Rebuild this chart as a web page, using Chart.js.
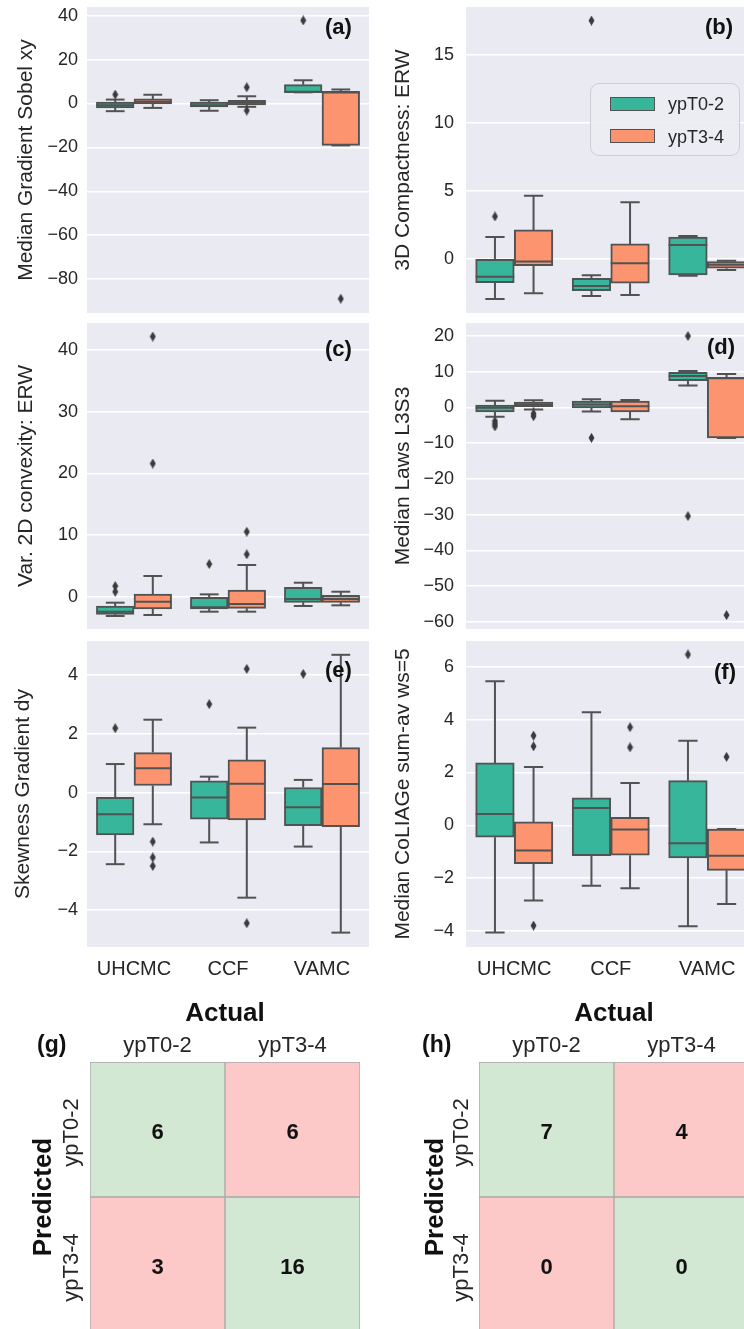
<!DOCTYPE html>
<html><head><meta charset="utf-8">
<script src="https://cdn.jsdelivr.net/npm/chart.js"></script>
<style>
html,body{margin:0;padding:0;background:#fff;}
body{width:744px;height:1329px;overflow:hidden;position:relative;font-family:"Liberation Sans",Arial,sans-serif;}
canvas{position:absolute;}
.lbl{position:absolute;font-weight:bold;font-size:22px;color:#111;line-height:26px;white-space:nowrap;}
#legend{position:absolute;left:590px;top:83px;width:150px;height:73px;border:1px solid #cdcdd4;border-radius:9px;background:rgba(236,236,243,0.9);box-sizing:border-box;}
.sw{position:absolute;left:19px;width:45px;height:14px;border:1.5px solid #525252;box-sizing:border-box;}
.lt{position:absolute;left:77px;font-size:18px;color:#262626;line-height:20px;white-space:nowrap;}
</style></head><body>
<canvas id="pa" width="372" height="320" style="left:0;top:0"></canvas>
<canvas id="pb" width="400" height="320" style="left:372px;top:0"></canvas>
<canvas id="pc" width="372" height="320" style="left:0;top:316px"></canvas>
<canvas id="pd" width="400" height="320" style="left:372px;top:316px"></canvas>
<canvas id="pe" width="372" height="360" style="left:0;top:634px"></canvas>
<canvas id="pf" width="400" height="360" style="left:372px;top:634px"></canvas>
<canvas id="pg" width="372" height="345" style="left:0;top:990px"></canvas>
<canvas id="ph" width="400" height="345" style="left:372px;top:990px"></canvas>

<div class="lbl" style="left:325px;top:14px">(a)</div>
<div class="lbl" style="left:705px;top:14px">(b)</div>
<div class="lbl" style="left:325px;top:336px">(c)</div>
<div class="lbl" style="left:707px;top:334px">(d)</div>
<div class="lbl" style="left:325px;top:657px">(e)</div>
<div class="lbl" style="left:714px;top:659px">(f)</div>
<div class="lbl" style="left:37px;top:1031px;font-size:23px">(g)</div>
<div class="lbl" style="left:422px;top:1031px;font-size:23px">(h)</div>

<div id="legend">
  <div class="sw" style="top:13px;background:#37b69b"></div><div class="lt" style="top:10px">ypT0-2</div>
  <div class="sw" style="top:45px;background:#fd9470"></div><div class="lt" style="top:43px">ypT3-4</div>
</div>

<script>
// ---------------- data ----------------
const categories = ['UHCMC', 'CCF', 'VAMC'];
const groups = ['ypT0-2', 'ypT3-4'];
// each entry: [lower whisker, Q1, median, Q3, upper whisker] per category
const sobelT02 = [[-3.5, -2.0, -0.8, 0.6, 1.8], [-3.3, -1.5, -0.8, 0.6, 1.5], [5.1, 5.1, 5.3, 8.6, 10.6]];
const sobelT34 = [[-2.0, -0.2, 0.8, 2.1, 4.0], [-1.5, -0.6, 0.3, 1.5, 3.3], [-19.1, -19.1, 5.0, 5.6, 6.4]];
const sobelT02Out = [[4.1], [], [37.9]];
const sobelT34Out = [[], [7.4, -3.2], [-89]];

const compactT02 = [[-2.97, -1.77, -1.33, -0.05, 1.58], [-2.75, -2.36, -2.01, -1.45, -1.23], [-1.27, -1.2, 1.0, 1.58, 1.67]];
const compactT34 = [[-2.55, -0.52, -0.22, 2.11, 4.62], [-2.67, -1.81, -0.34, 1.08, 4.15], [-0.83, -0.71, -0.46, -0.22, -0.15]];
const compactT02Out = [[3.1], [17.5], []];
const compactT34Out = [[], [], []];

const convexT02 = [[-3.13, -2.86, -2.43, -1.51, -0.97], [-2.43, -2.0, -1.72, -0.1, 0.38], [-1.51, -0.92, -0.38, 1.52, 2.27]];
const convexT34 = [[-2.97, -2.0, -0.81, 0.44, 3.36], [-2.43, -1.89, -1.19, 1.09, 5.14], [-1.4, -0.92, -0.38, 0.22, 0.81]];
const convexT02Out = [[1.73, 0.81], [5.3], []];
const convexT34Out = [[42.2, 21.6], [6.87, 10.54], []];

const lawsT02 = [[-2.62, -1.22, -0.1, 0.65, 1.87], [-1.12, -0.1, 0.84, 1.77, 2.33], [6.18, 7.48, 8.79, 9.83, 10.2]];
const lawsT34 = [[-0.56, 0.0, 0.84, 1.49, 2.05], [-3.29, -1.23, 0.37, 1.77, 2.13], [-8.54, -8.54, 8.2, 8.43, 9.35]];
const lawsT02Out = [[-3.8, -4.6, -5.3], [-8.5], [20.0, -30.4]];
const lawsT34Out = [[-1.7, -2.45], [], [-58.1]];

const skewT02 = [[-2.44, -1.44, -0.74, -0.16, 0.97], [-1.7, -0.91, -0.17, 0.4, 0.54], [-1.84, -1.13, -0.5, 0.17, 0.43]];
const skewT34 = [[-1.08, 0.24, 0.83, 1.36, 2.48], [-3.58, -0.93, 0.3, 1.11, 2.21], [-4.77, -1.16, 0.29, 1.53, 4.69]];
const skewT02Out = [[2.19], [3.01], [4.04]];
const skewT34Out = [[-1.67, -2.21, -2.5], [4.21, -4.45], []];

const coliageT02 = [[-4.05, -0.45, 0.43, 2.36, 5.45], [-2.28, -1.15, 0.66, 1.04, 4.28], [-3.82, -1.23, -0.68, 1.69, 3.2]];
const coliageT34 = [[-2.84, -1.45, -0.95, 0.13, 2.21], [-2.38, -1.13, -0.16, 0.3, 1.6], [-2.97, -1.7, -1.15, -0.14, -0.14]];
const coliageT02Out = [[], [], [6.46]];
const coliageT34Out = [[3.39, 2.99, -3.79], [3.71, 2.95], [2.59]];

const cmActual = ['ypT0-2', 'ypT3-4'];
const cmPredicted = ['ypT0-2', 'ypT3-4'];
const cmCountsG = [[6, 6], [3, 16]];
const cmCountsH = [[7, 4], [0, 0]];

// ---------------- style ----------------
const GREEN = '#37b69b', ORANGE = '#fd9470', EDGE = '#525252', PANEL_BG = '#eaeaf2', TXT = '#262626';
const CM_GOOD = '#d2e8d3', CM_BAD = '#fcc8c8';
Chart.defaults.font.family = '"Liberation Sans", Arial, sans-serif';
Chart.defaults.color = TXT;

const bgPlugin = {
  id: 'panelBg',
  beforeDraw(chart, args, o) {
    if (!o || !o.color) return;
    const {ctx, chartArea: c} = chart;
    ctx.save(); ctx.fillStyle = o.color;
    ctx.fillRect(c.left, c.top, c.right - c.left, c.bottom - c.top);
    ctx.restore();
  }
};
Chart.register(bgPlugin);

const diamond = (() => {
  const c = document.createElement('canvas'); c.width = 7; c.height = 10;
  const g = c.getContext('2d'); g.fillStyle = '#3a3a3a';
  g.beginPath(); g.moveTo(3.5, 0); g.lineTo(6.5, 5); g.lineTo(3.5, 10); g.lineTo(0.5, 5); g.closePath(); g.fill();
  return c;
})();

const fmt = v => (v < 0 ? '\u2212' + Math.abs(v) : String(v));
const BOX_W = 0.4; // box width in category units (seaborn width 0.8 split over 2 hues)

function boxDatasets(stats, outs, color, off, label) {
  const whisk = [], caps = [], meds = [], pts = [];
  stats.forEach((s, i) => {
    const x = i + off;
    whisk.push({x, y: s[0]}, {x, y: s[1]}, {x, y: null}, {x, y: s[3]}, {x, y: s[4]}, {x, y: null});
    caps.push({x, y: s[0]}, {x, y: s[4]});
    meds.push({x, y: s[2]});
  });
  outs.forEach((arr, i) => arr.forEach(v => pts.push({x: i + off, y: v})));
  const halfBox = ctx => {
    const sc = ctx.chart.scales.x;
    return sc ? Math.abs(sc.getPixelForValue(BOX_W / 2) - sc.getPixelForValue(0)) : 18;
  };
  return [
    {type: 'bar', label, data: stats.map((s, i) => ({x: i + off, y: [s[1], s[3]]})), backgroundColor: color,
     borderColor: EDGE, borderWidth: 2, borderSkipped: false, barPercentage: 1, categoryPercentage: 1,
     grouped: false, order: 2},
    {type: 'line', data: whisk, borderColor: EDGE, borderWidth: 2, pointRadius: 0,
     spanGaps: false, fill: false, order: 3},
    {type: 'scatter', data: caps, pointStyle: 'line', pointRadius: ctx => halfBox(ctx) / 2,
     pointBorderColor: EDGE, pointBorderWidth: 2, order: 3},
    {type: 'scatter', data: meds, pointStyle: 'line', pointRadius: halfBox,
     pointBorderColor: EDGE, pointBorderWidth: 2, order: 1},
    {type: 'scatter', data: pts, pointStyle: diamond, pointRadius: 4, order: 0}
  ];
}

function boxPanel(id, t02, t02Out, t34, t34Out, o) {
  new Chart(document.getElementById(id), {
    type: 'bar',
    data: {datasets: [
      ...boxDatasets(t02, t02Out, GREEN, -BOX_W / 2, groups[0]),
      ...boxDatasets(t34, t34Out, ORANGE, BOX_W / 2, groups[1])
    ]},
    options: {
      responsive: false, animation: false, events: [],
      layout: {autoPadding: false, padding: {top: 7, bottom: o.showX ? 0 : 7, left: 0, right: o.right}},
      plugins: {legend: {display: false}, tooltip: {enabled: false}, panelBg: {color: PANEL_BG}},
      scales: {
        x: {type: 'linear', min: -0.5, max: categories.length - 0.5, offset: false, display: !!o.showX,
            grid: {display: false, offset: false}, border: {display: false},
            ticks: {font: {size: 20}, color: TXT, padding: 2,
                    callback: v => (categories[v] !== undefined ? categories[v] : '')},
            afterBuildTicks: s => { s.ticks = categories.map((c, i) => ({value: i})); },
            afterFit: s => { s.height = o.showX ? 47 : 0; s.paddingLeft = 0; s.paddingRight = 0; }},
        y: {min: o.min, max: o.max,
            ticks: {stepSize: o.step, includeBounds: false, font: {size: 18}, color: TXT, padding: o.tickPad, callback: fmt},
            grid: {color: '#ffffff', lineWidth: 1.5, drawTicks: false},
            border: {display: false},
            title: {display: true, text: o.title, font: {size: 21}, color: TXT, padding: {top: o.titlePad, bottom: 0}},
            afterFit: s => { s.width = o.yW; s.paddingTop = 0; s.paddingBottom = 0; }}
      }
    }
  });
}

const L = {yW: 87, right: 3, tickPad: 9, titlePad: 14};
const R = {yW: 94, right: 16.5, tickPad: 12, titlePad: 19};
boxPanel('pa', sobelT02, sobelT02Out, sobelT34, sobelT34Out, {...L, min: -95.5, max: 44.0, step: 20, title: 'Median Gradient Sobel xy'});
boxPanel('pb', compactT02, compactT02Out, compactT34, compactT34Out, {...R, min: -4.0, max: 18.5, step: 5, title: '3D Compactness: ERW'});
boxPanel('pc', convexT02, convexT02Out, convexT34, convexT34Out, {...L, min: -5.24, max: 44.4, step: 10, title: 'Var. 2D convexity: ERW'});
boxPanel('pd', lawsT02, lawsT02Out, lawsT34, lawsT34Out, {...R, min: -62, max: 23.65, step: 10, title: 'Median Laws L3S3'});
boxPanel('pe', skewT02, skewT02Out, skewT34, skewT34Out, {...L, titlePad: 11, min: -5.26, max: 5.16, step: 2, title: 'Skewness Gradient dy', showX: true});
boxPanel('pf', coliageT02, coliageT02Out, coliageT34, coliageT34Out, {...R, min: -4.6, max: 6.97, step: 2, title: 'Median CoLIAGe sum-av ws=5', showX: true});

// ---------------- confusion matrices ----------------
const cmText = {
  id: 'cmText',
  afterDatasetsDraw(chart, args, o) {
    const ctx = chart.ctx;
    ctx.save();
    ctx.fillStyle = '#111';
    ctx.textAlign = 'center'; ctx.textBaseline = 'middle';
    ctx.font = 'bold 22px "Liberation Sans", Arial, sans-serif';
    chart.data.datasets.forEach((ds, r) => {
      chart.getDatasetMeta(r).data.forEach((el, c) => {
        const p = el.getProps(['x', 'y', 'base'], true);
        ctx.fillText(String(o.counts[r][c]), p.x, (p.y + p.base) / 2 + 3);
      });
    });
    ctx.font = '22px "Liberation Sans", Arial, sans-serif';
    ctx.fillStyle = TXT;
    chart.data.datasets.forEach((ds, r) => {
      const el = chart.getDatasetMeta(r).data[0];
      const p = el.getProps(['y', 'base'], true);
      ctx.save();
      ctx.translate(chart.chartArea.left - o.rowOff, (p.y + p.base) / 2 + 3);
      ctx.rotate(-Math.PI / 2);
      ctx.fillText(ds.label, 0, 0);
      ctx.restore();
    });
    ctx.restore();
  }
};

function cmChart(id, counts, o) {
  new Chart(document.getElementById(id), {
    type: 'bar',
    data: {labels: cmActual, datasets: cmPredicted.map((p, r) => ({
      label: p, data: cmActual.map(() => [r, r + 1]),
      backgroundColor: cmActual.map((a, c) => (r === c ? CM_GOOD : CM_BAD)),
      borderColor: '#a9a9a9', borderWidth: 1, borderSkipped: false,
      barPercentage: 1, categoryPercentage: 1, grouped: false
    }))},
    options: {
      responsive: false, animation: false, events: [],
      layout: {padding: {top: 0, bottom: 3, left: 0, right: o.right}},
      plugins: {legend: {display: false}, tooltip: {enabled: false}, cmText: {counts, rowOff: o.rowOff}},
      scales: {
        x: {position: 'top', grid: {display: false}, border: {display: false},
            ticks: {font: {size: 22}, color: TXT, padding: -5},
            title: {display: true, text: 'Actual', font: {size: 26, weight: 'bold'}, color: '#111', padding: {top: 8, bottom: 0}},
            afterFit: s => { s.height = 72; }},
        y: {min: 0, max: 2, reverse: true, ticks: {display: false}, grid: {display: false}, border: {display: false},
            title: {display: true, text: 'Predicted', font: {size: 26, weight: 'bold'}, color: '#111', padding: {top: o.titlePad, bottom: 0}},
            afterFit: s => { s.width = o.yW; }}
      }
    },
    plugins: [cmText]
  });
}
cmChart('pg', cmCountsG, {yW: 90, right: 12, titlePad: 28, rowOff: 18});
cmChart('ph', cmCountsH, {yW: 107, right: 23, titlePad: 48, rowOff: 17});
</script>
</body></html>
